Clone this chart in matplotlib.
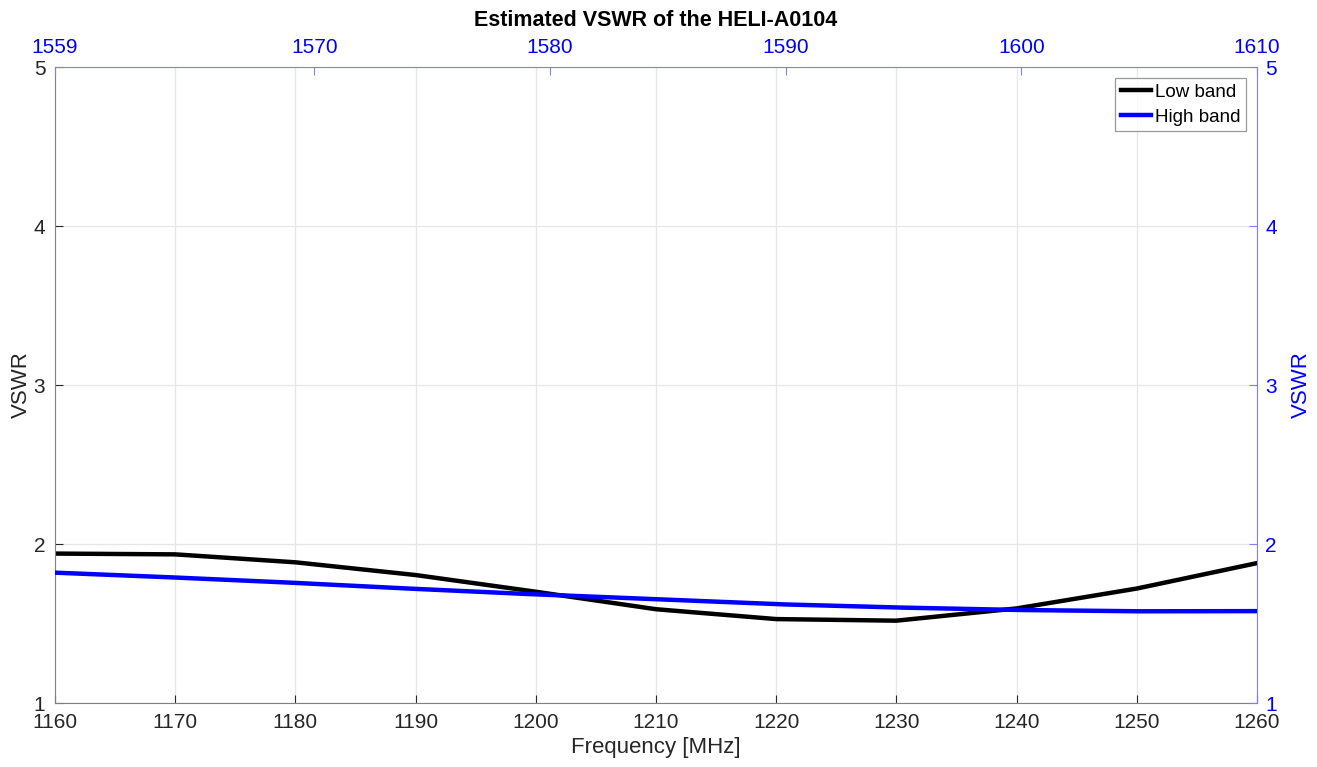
import numpy as np
import matplotlib
matplotlib.use('Agg')
import matplotlib.pyplot as plt

plt.rcParams['font.family'] = ['Liberation Sans', 'DejaVu Sans']

# Low band (bottom / left axes)
freq_low = [1160, 1170, 1180, 1190, 1200, 1210, 1220, 1230, 1240, 1250, 1260]
vswr_low = [1.94, 1.935, 1.885, 1.805, 1.70, 1.59, 1.528, 1.518, 1.595, 1.72, 1.88]

# High band (top / right axes)
freq_high = [1559, 1564, 1569, 1574, 1579, 1585, 1590, 1595, 1600, 1605, 1610]
vswr_high = [1.82, 1.79, 1.757, 1.72, 1.686, 1.65, 1.62, 1.60, 1.585, 1.577, 1.578]

top_ticks = [1559, 1570, 1580, 1590, 1600, 1610]

blue = '#0000ff'
spine_blue = '#8080f0'
dark = '#262626'

fig = plt.figure(figsize=(13.17, 7.67), dpi=100)
pos = [0.0418, 0.0834, 0.9126, 0.8292]

ax = fig.add_axes(pos)
l1, = ax.plot(freq_low, vswr_low, color='black', lw=3.2, label='Low band')
ax.set_xlim(1160, 1260)
ax.set_ylim(1, 5)
ax.set_xticks(np.arange(1160, 1261, 10))
ax.set_yticks([1, 2, 3, 4, 5])
ax.grid(True, color='#e6e6e6', lw=0.9)
ax.tick_params(direction='in', length=6, labelsize=15, colors=dark, top=False, right=False)
ax.tick_params(axis='x', pad=7)
ax.tick_params(axis='y', pad=7)
ax.set_xlabel('Frequency [MHz]', fontsize=16, color=dark, labelpad=4)
ax.set_ylabel('VSWR', fontsize=16, color=dark, labelpad=1)
for s in ['left', 'bottom']:
    ax.spines[s].set_color('#808080')
for s in ['top', 'right']:
    ax.spines[s].set_color(spine_blue)

ax2 = fig.add_axes(pos, frameon=False)
l2, = ax2.plot(freq_high, vswr_high, color=blue, lw=3.2, label='High band')
ax2.set_xlim(1559, 1610)
ax2.set_ylim(1, 5)
ax2.set_xticks(top_ticks)
ax2.set_yticks([1, 2, 3, 4, 5])
ax2.xaxis.tick_top()
ax2.yaxis.tick_right()
ax2.yaxis.set_label_position('right')
ax2.tick_params(direction='in', length=6, labelsize=15, colors=blue)
ax2.tick_params(axis='both', color=spine_blue)
ax2.tick_params(axis='x', pad=7)
ax2.tick_params(axis='y', pad=6)
ax2.set_ylabel('VSWR', fontsize=16, color=blue, labelpad=10)

fig.text(0.5 * (pos[0] * 2 + pos[2]), 1 - 21 / 767, 'Estimated VSWR of the HELI-A0104',
         fontsize=15.5, fontweight='bold', color='black', ha='center', va='center')

leg = ax2.legend(handles=[l1, l2], loc='upper right', fontsize=13.5, frameon=True,
                 fancybox=False, edgecolor='#808080', handlelength=1.6,
                 handletextpad=0.2, borderpad=0.3, labelspacing=0.4,
                 borderaxespad=0.6)
leg.get_frame().set_linewidth(0.9)

fig.savefig('out.png', dpi=100, facecolor='white')
